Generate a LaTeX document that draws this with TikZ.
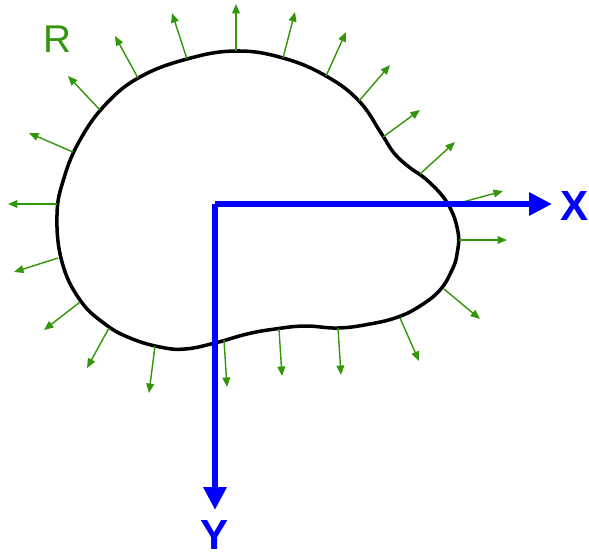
\documentclass[tikz,border=0pt]{standalone}
\usepackage{fontspec}
\setsansfont{Liberation Sans}
\usepackage{xcolor}
\usepackage{tikz}
\usetikzlibrary{arrows.meta,positioning}
\definecolor{rgreen}{RGB}{51,150,10}
\definecolor{rblue}{RGB}{0,0,255}
\tikzset{
  rboundary/.style={draw=black, line width=2pt, line join=round},
  rnormal/.style={-{Triangle[length=5.4pt,width=4.4pt]}, draw=rgreen, fill=rgreen, line width=0.8pt},
  raxis/.style={-{Triangle[length=13pt,width=12.5pt]}, draw=rblue, fill=rblue, line width=3.6pt},
  raxislabel/.style={font=\sffamily\bfseries\fontsize{24}{24}\selectfont, text=rblue, inner sep=0pt, anchor=base},
  rlabel/.style={font=\sffamily\fontsize{22}{22}\selectfont, text=rgreen, inner sep=0pt, anchor=base},
}

\begin{document}
\begin{tikzpicture}[x=0.02cm, y=-0.02cm]
  \useasboundingbox (0,0) rectangle (589,559);
  % region boundary
  \draw[rboundary] plot[smooth cycle, tension=0.7] coordinates {
    (236,51) (283,58) (326,76) (359,101) (381,133) (394,153) (409,167)
    (428,181) (448,204) (458,232) (457,254) (452,270) (440,290) (420,306)
    (398,317) (370,324) (338,328) (305,326) (275,329) (247,334) (215,343)
    (185,349) (160,347) (130,338) (105,324) (80,300) (62,262) (57,215)
    (64,178) (80,140) (106,104) (140,77) (187,59)};
  % outward normals
  \foreach \bx/\by/\tx/\ty [count=\i] in {
    236/51/236/4, 283/58/295/12, 326/76/346/32, 359/101/390/65,
    383/137/420/110, 420/174/455/142, 452/205/503/191, 459/240/507/240,
    444/289/480/319, 400/318/419/361, 338/328/341/375, 279/329/282/376,
    224/340/227/387, 155/346/149/393, 109/328/87/368, 80/302/44/330,
    58/258/14/272, 57/204/8/204, 73/152/29/133, 100/110/68/76,
    138/78/115/36, 187/59/172/13}
  {
    \coordinate (nb\i) at (\bx,\by);
    \coordinate (nt\i) at (\tx,\ty);
    \draw[rnormal] (nb\i) -- (nt\i);
  }
  % axes
  \coordinate (origin) at (215,204);
  \coordinate (xtip) at (552,204);
  \coordinate (ytip) at (215,510);
  \draw[raxis] (origin) -- (xtip);
  \draw[raxis] (origin) -- (ytip);
  \node (xlab) [raxislabel] at (575,220) {X};
  \node (ylab) [raxislabel, below=6pt of ytip, anchor=north] {Y};
  \node (rlab) [rlabel] at (57,52) {R};
\end{tikzpicture}
\end{document}
